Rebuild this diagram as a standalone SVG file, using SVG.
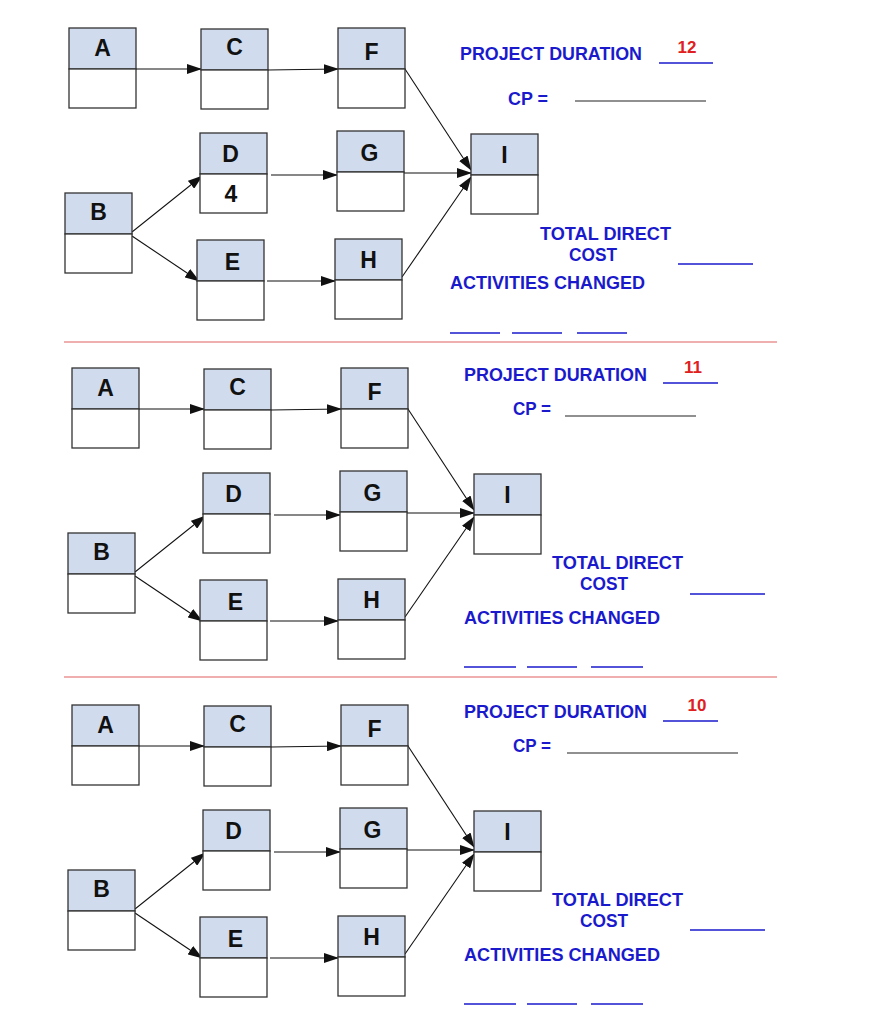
<svg xmlns="http://www.w3.org/2000/svg" xmlns:xlink="http://www.w3.org/1999/xlink" width="886" height="1024" viewBox="0 0 886 1024">
<style>
.hd{fill:#d0dcee;stroke:#333;stroke-width:1.3}
.bd{fill:#fff;stroke:#333;stroke-width:1.3}
.lt{font-family:"Liberation Sans",Arial,sans-serif;font-weight:bold;font-size:23px;fill:#111;text-anchor:middle}
.cn line{stroke:#111;stroke-width:1.1;marker-end:url(#ah)}
.bl{font-family:"Liberation Sans",Arial,sans-serif;font-weight:bold;font-size:18px;fill:#1a1acc}
.rd{font-family:"Liberation Sans",Arial,sans-serif;font-weight:bold;font-size:17px;fill:#e02020;text-anchor:middle}
.ul{stroke:#1a1acc;stroke-width:1.5}
.ub{stroke:#222;stroke-width:1.2}
.sep{stroke:#e06060;stroke-width:1.2}
</style>
<defs>
<marker id="ah" markerWidth="15" markerHeight="10" refX="14" refY="5" orient="auto" markerUnits="userSpaceOnUse"><path d="M0,0 L15,5 L0,10 Z" fill="#111"/></marker>
<g id="net">
<g class="cn">
<line x1="136" y1="69" x2="201" y2="69"/>
<line x1="268" y1="70" x2="338" y2="69"/>
<line x1="405" y1="69" x2="471" y2="170"/>
<line x1="404" y1="173" x2="471" y2="173"/>
<line x1="402" y1="277" x2="471" y2="177"/>
<line x1="132" y1="232" x2="202" y2="176"/>
<line x1="132" y1="236" x2="199" y2="281"/>
<line x1="271" y1="175" x2="337" y2="175"/>
<line x1="267" y1="281" x2="335" y2="281"/>
</g>
<g id="nA"><rect class="hd" x="69" y="28" width="67" height="41"/><rect class="bd" x="69" y="69" width="67" height="39"/><text class="lt" x="102.5" y="56">A</text></g>
<g id="nC"><rect class="hd" x="201" y="29" width="67" height="41"/><rect class="bd" x="201" y="70" width="67" height="39"/><text class="lt" x="234.5" y="55">C</text></g>
<g id="nF"><rect class="hd" x="338" y="28" width="67" height="41"/><rect class="bd" x="338" y="69" width="67" height="39"/><text class="lt" x="371.5" y="60">F</text></g>
<g id="nB"><rect class="hd" x="65" y="193" width="67" height="41"/><rect class="bd" x="65" y="234" width="67" height="39"/><text class="lt" x="98.5" y="220">B</text></g>
<g id="nD"><rect class="hd" x="200" y="133" width="67" height="41"/><rect class="bd" x="200" y="174" width="67" height="39"/><text class="lt" x="230.5" y="162">D</text></g>
<g id="nG"><rect class="hd" x="337" y="131" width="67" height="41"/><rect class="bd" x="337" y="172" width="67" height="39"/><text class="lt" x="369.5" y="161">G</text></g>
<g id="nI"><rect class="hd" x="471" y="134" width="67" height="41"/><rect class="bd" x="471" y="175" width="67" height="39"/><text class="lt" x="504.5" y="163">I</text></g>
<g id="nE"><rect class="hd" x="197" y="240" width="67" height="41"/><rect class="bd" x="197" y="281" width="67" height="39"/><text class="lt" x="232.5" y="270">E</text></g>
<g id="nH"><rect class="hd" x="335" y="239" width="67" height="41"/><rect class="bd" x="335" y="280" width="67" height="39"/><text class="lt" x="368.5" y="268">H</text></g>
</g>
</defs>
<rect width="886" height="1024" fill="#fff"/>
<use xlink:href="#net"/>
<text class="lt" x="231" y="202" font-size="21">4</text>
<use xlink:href="#net" transform="translate(3,340)"/>
<use xlink:href="#net" transform="translate(3,677)"/>
<line class="sep" x1="64" y1="342" x2="777" y2="342"/>
<line class="sep" x1="64" y1="677" x2="777" y2="677"/>
<!-- panel 1 text -->
<text class="bl" x="460" y="60" textLength="182" lengthAdjust="spacingAndGlyphs">PROJECT DURATION</text>
<line class="ul" x1="659" y1="63" x2="713" y2="63"/>
<text class="rd" x="687" y="53">12</text>
<text class="bl" x="508" y="105" textLength="40" lengthAdjust="spacingAndGlyphs">CP =</text>
<line class="ub" x1="575" y1="101" x2="706" y2="101"/>
<text class="bl" x="540" y="240" textLength="131" lengthAdjust="spacingAndGlyphs">TOTAL DIRECT</text>
<text class="bl" x="569" y="261" textLength="48" lengthAdjust="spacingAndGlyphs">COST</text>
<line class="ul" x1="678" y1="264" x2="753" y2="264"/>
<text class="bl" x="450" y="289" textLength="195" lengthAdjust="spacingAndGlyphs">ACTIVITIES CHANGED</text>
<line class="ul" x1="450" y1="333" x2="500" y2="333"/>
<line class="ul" x1="512" y1="333" x2="562" y2="333"/>
<line class="ul" x1="577" y1="333" x2="627" y2="333"/>
<!-- panel 2 text -->
<text class="bl" x="464" y="381" textLength="183" lengthAdjust="spacingAndGlyphs">PROJECT DURATION</text>
<line class="ul" x1="663" y1="383" x2="718" y2="383"/>
<text class="rd" x="693" y="373">11</text>
<text class="bl" x="513" y="415" textLength="38" lengthAdjust="spacingAndGlyphs">CP =</text>
<line class="ub" x1="565" y1="416" x2="696" y2="416"/>
<text class="bl" x="552" y="569" textLength="131" lengthAdjust="spacingAndGlyphs">TOTAL DIRECT</text>
<text class="bl" x="580" y="590" textLength="48" lengthAdjust="spacingAndGlyphs">COST</text>
<line class="ul" x1="690" y1="594" x2="765" y2="594"/>
<text class="bl" x="464" y="624" textLength="196" lengthAdjust="spacingAndGlyphs">ACTIVITIES CHANGED</text>
<line class="ul" x1="464" y1="667" x2="516" y2="667"/>
<line class="ul" x1="527" y1="667" x2="577" y2="667"/>
<line class="ul" x1="591" y1="667" x2="643" y2="667"/>
<!-- panel 3 text -->
<text class="bl" x="464" y="718" textLength="183" lengthAdjust="spacingAndGlyphs">PROJECT DURATION</text>
<line class="ul" x1="663" y1="721" x2="718" y2="721"/>
<text class="rd" x="697" y="711">10</text>
<text class="bl" x="513" y="752" textLength="38" lengthAdjust="spacingAndGlyphs">CP =</text>
<line class="ub" x1="567" y1="753" x2="738" y2="753"/>
<text class="bl" x="552" y="906" textLength="131" lengthAdjust="spacingAndGlyphs">TOTAL DIRECT</text>
<text class="bl" x="580" y="927" textLength="48" lengthAdjust="spacingAndGlyphs">COST</text>
<line class="ul" x1="690" y1="930" x2="765" y2="930"/>
<text class="bl" x="464" y="961" textLength="196" lengthAdjust="spacingAndGlyphs">ACTIVITIES CHANGED</text>
<line class="ul" x1="464" y1="1004" x2="516" y2="1004"/>
<line class="ul" x1="527" y1="1004" x2="577" y2="1004"/>
<line class="ul" x1="591" y1="1004" x2="643" y2="1004"/>
</svg>
